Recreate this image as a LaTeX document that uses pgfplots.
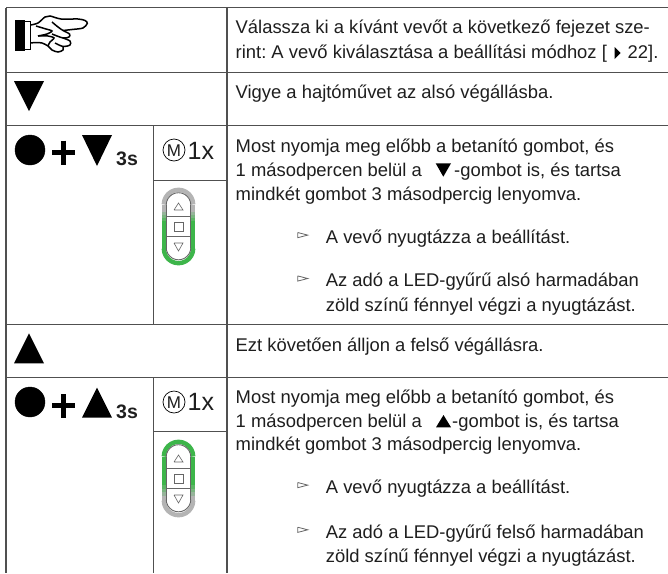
\documentclass[border=0pt]{standalone}
\usepackage{pgfplots}
\usepackage{pgfplotstable}
\usepackage{fontspec}
\setmainfont{Liberation Sans}
\pgfplotsset{compat=1.18}
\definecolor{rule}{HTML}{505050}
\definecolor{txt}{HTML}{1E1E1E}
\definecolor{ringg}{HTML}{B4B4B4}
\definecolor{ringc}{HTML}{3DB54A}
\definecolor{inner}{HTML}{666666}
\pgfplotstableread{
dx dy
-1 0
-.966 .259
-.866 .5
-.707 .707
-.5 .866
-.259 .966
0 1
.259 .966
.5 .866
.707 .707
.866 .5
.966 .259
1 0
}\unitarc
\newcommand{\Rl}[4]{\addplot[rule,line width=1.3pt] coordinates {(#1,#2)(#3,#4)};}
\newcommand{\T}[3]{\node[anchor=base west,inner sep=0pt,text=txt,font=\fontsize{18.4}{20}\selectfont] at (axis cs:#1,#2) {\frenchspacing #3};}
\newcommand{\Tri}[6]{\addplot[fill=black,draw=none] coordinates {(#1,#2)(#3,#4)(#5,#6)} --cycle;}
\newcommand{\Bul}[1]{\addplot[inner,line width=.8pt] coordinates {(297.7,#1-10.8)(307.7,#1-8.2)(297.7,#1-5.6)(297.7,#1-10.8)};}
\newcommand{\Arc}[4]{\addplot[#1,line width=#2pt] table[x expr=178.5+\thisrow{dx}*#3,y expr=#4]{\unitarc};}
\newcommand{\Sd}[3]{\addplot[#1,line width=4.4pt] coordinates {(163.8,#2)(163.8,#3)};\addplot[#1,line width=4.4pt] coordinates {(193.2,#2)(193.2,#3)};}
\newcommand{\Inner}[1]{%
 \Arc{inner}{.9}{12.3}{#1+205-\thisrow{dy}*12.3}
 \Arc{inner}{.9}{12.3}{#1+247.5+\thisrow{dy}*12.3}
 \addplot[inner,line width=.9pt] coordinates {(166.2,#1+205)(166.2,#1+247.5)};
 \addplot[inner,line width=.9pt] coordinates {(190.8,#1+205)(190.8,#1+247.5)};
 \addplot[inner,line width=.8pt] coordinates {(166.2,#1+216)(190.8,#1+216)};
 \addplot[inner,line width=.8pt] coordinates {(166.2,#1+236.7)(190.8,#1+236.7)};
 \addplot[inner,line width=.6pt] coordinates {(174,#1+210)(183,#1+210)(178.5,#1+203)(174,#1+210)};
 \addplot[inner,line width=.6pt] coordinates {(174.2,#1+222)(183,#1+222)(183,#1+231)(174.2,#1+231)(174.2,#1+222)};
 \addplot[inner,line width=.6pt] coordinates {(174,#1+243)(183,#1+243)(178.5,#1+251)(174,#1+243)};
}
\begin{document}
\begin{tikzpicture}
\begin{axis}[hide axis,scale only axis,width=668pt,height=573pt,xmin=0,xmax=668,ymin=0,ymax=573,y dir=reverse,clip=true,cycle list={{black}}]
\addplot[fill=white,draw=none] coordinates {(0,0)(668,0)(668,573)(0,573)} --cycle;
% table rules
\Rl{6}{7.5}{668}{7.5}
\Rl{6}{72.5}{668}{72.5}
\Rl{6}{125.5}{668}{125.5}
\Rl{6}{324.7}{668}{324.7}
\Rl{6}{377.7}{668}{377.7}
\Rl{6}{7.5}{6}{573}
\Rl{227}{7.5}{227}{573}
\Rl{153.5}{125.5}{153.5}{324.7}
\Rl{153.5}{377.7}{153.5}{573}
\Rl{153.5}{180.3}{227}{180.3}
\Rl{153.5}{431.3}{227}{431.3}
% big symbols
\Tri{14}{81}{44}{81}{29}{111}
\Tri{14}{363.3}{44}{363.3}{29}{333.3}
\addplot[only marks,mark=*,mark size=15,black] coordinates {(30,150)(30,402)};
\Tri{82}{135}{112}{135}{97}{166}
\Tri{82}{417.7}{112}{417.7}{97}{387.7}
\addplot[black,line width=5pt] coordinates {(52,152)(75,152)};
\addplot[black,line width=5pt] coordinates {(63.5,140.5)(63.5,165)};
\addplot[black,line width=5pt] coordinates {(52,405.7)(75,405.7)};
\addplot[black,line width=5pt] coordinates {(63.5,394)(63.5,418)};
\node[anchor=base west,inner sep=0pt,text=txt,font=\fontsize{19.5}{20}\selectfont\bfseries] at (axis cs:116,165.5) {3s};
\node[anchor=base west,inner sep=0pt,text=txt,font=\fontsize{19.5}{20}\selectfont\bfseries] at (axis cs:116,418) {3s};
% M buttons
\addplot[only marks,mark=o,mark size=11,black,mark options={line width=.7pt}] coordinates {(174,150)(174,402)};
\node[inner sep=0pt,text=txt,font=\fontsize{17}{18}\selectfont] at (axis cs:174,150.5) {M};
\node[inner sep=0pt,text=txt,font=\fontsize{17}{18}\selectfont] at (axis cs:174,402.5) {M};
\node[anchor=base west,inner sep=0pt,text=txt,font=\fontsize{25}{26}\selectfont] at (axis cs:187.5,159.5) {1x};
\node[anchor=base west,inner sep=0pt,text=txt,font=\fontsize{25}{26}\selectfont] at (axis cs:187.5,410) {1x};
% remote 1: grey top, green bottom
\Arc{ringg}{4.4}{14.7}{204.5-\thisrow{dy}*14.7}
\Sd{ringg}{204.5}{212}
\Sd{ringg!75!ringc}{212}{215}
\Sd{ringg!50!ringc}{215}{218}
\Sd{ringg!25!ringc}{218}{221}
\Sd{ringc}{221}{248.5}
\Arc{ringc}{4.4}{14.7}{248.5+\thisrow{dy}*14.7}
\Inner{0}
% remote 2: green top, grey bottom
\Arc{ringc}{4.4}{14.7}{456.5-\thisrow{dy}*14.7}
\Sd{ringc}{456.5}{485}
\Sd{ringg!25!ringc}{485}{488.5}
\Sd{ringg!50!ringc}{488.5}{492}
\Sd{ringg!75!ringc}{492}{495.5}
\Sd{ringg}{495.5}{500.5}
\Arc{ringg}{4.4}{14.7}{500.5+\thisrow{dy}*14.7}
\Inner{252}
% hand
\addplot[fill=black,draw=none] coordinates {(14.5,20)(24.5,20)(24.5,50.5)(14.5,50.5)} --cycle;
\addplot[black,line width=1.4pt] coordinates {(24.5,21.7)(30.7,21.7)(30.7,49.3)(24.5,49.3)};
\addplot[black,line width=1.5pt,smooth] coordinates {(30.7,25)(38,23)(45,17)(50,16)(61,19)(78,19)(85,20.5)(87.3,23.3)(83,28)(72,29.5)(63,30.5)};
\addplot[black,line width=1.5pt,smooth] coordinates {(52,22)(58,27)(63,30.5)(69.5,34)(69,37)(63,38)(52,34)};
\addplot[black,line width=1.5pt,smooth] coordinates {(63,38)(70,41)(70,45)(63,46.5)(55,43)};
\addplot[black,line width=1.5pt,smooth] coordinates {(63,46.5)(63,50)(58,52)(52,50)(48,46)(42,43)(36,42.5)(30.7,43)};
\addplot[black,line width=1.5pt,smooth] coordinates {(36,26)(46,29)(52,31)(47,34)(38,36)};
\addplot[black,line width=1.5pt,smooth] coordinates {(38,36)(48,36)(54,38)(50,42)(48,46)};
% inline triangles
\Tri{435.7}{163.3}{451}{163.3}{443.3}{176.7}
\Tri{436}{427.3}{451}{427.3}{443.5}{415}
\Tri{614.5}{47}{620.5}{53}{614.5}{59}
% bullets
\Bul{243.3}\Bul{286.7}\Bul{493.3}\Bul{538}
% text
\T{235.5}{33}{Válassza ki a kívánt vevőt a következő fejezet sze-}
\T{235.5}{58.5}{rint: A vevő kiválasztása a beállítási módhoz [}
\T{627.5}{58.5}{22].}
\T{235.5}{98}{Vigye a hajtóművet az alsó végállásba.}
\T{235.5}{152.7}{Most nyomja meg előbb a betanító gombot, és}
\T{235.5}{176.7}{1 másodpercen belül a}
\T{454}{176.7}{-gombot is, és tartsa}
\T{235.5}{200}{mindkét gombot 3 másodpercig lenyomva.}
\T{325.7}{243.3}{A vevő nyugtázza a beállítást.}
\T{325.7}{286.7}{Az adó a LED-gyűrű alsó harmadában}
\T{325.7}{311.7}{zöld színű fénnyel végzi a nyugtázást.}
\T{235.5}{351}{Ezt követően álljon a felső végállásra.}
\T{235.5}{403.3}{Most nyomja meg előbb a betanító gombot, és}
\T{235.5}{427}{1 másodpercen belül a}
\T{452}{427}{-gombot is, és tartsa}
\T{235.5}{450.7}{mindkét gombot 3 másodpercig lenyomva.}
\T{325.7}{493.3}{A vevő nyugtázza a beállítást.}
\T{325.7}{538}{Az adó a LED-gyűrű felső harmadában}
\T{325.7}{562}{zöld színű fénnyel végzi a nyugtázást.}
\end{axis}
\end{tikzpicture}
\end{document}
